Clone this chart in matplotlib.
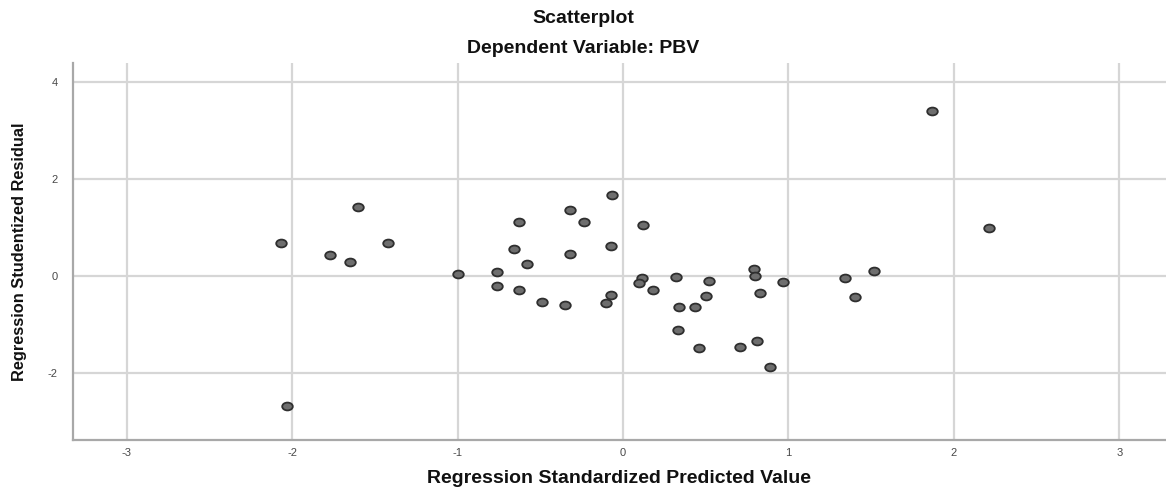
import matplotlib
matplotlib.use("Agg")
import matplotlib.pyplot as plt
from matplotlib.path import Path
import numpy as np

# ---- data ----
pred_values = [-1.60, -2.07, -1.42, -1.77, -1.65, -2.03,
               -0.065, -0.32, -0.63, -0.236, 0.12, -0.66, -0.07, -0.32, -0.58,
               -1.00, -0.76, -0.76, -0.63, -0.49, -0.35, -0.07, -0.10,
               0.115, 0.097, 0.18, 0.32, 0.52, 0.34, 0.435, 0.50, 0.33, 0.46,
               0.79, 0.80, 0.83, 0.97, 0.71, 0.81, 0.89,
               1.345, 1.52, 1.40, 1.87, 2.21]
resid_values = [1.41, 0.68, 0.68, 0.42, 0.29, -2.69,
                1.66, 1.35, 1.10, 1.11, 1.05, 0.55, 0.61, 0.44, 0.24,
                0.04, 0.08, -0.22, -0.29, -0.55, -0.61, -0.39, -0.56,
                -0.04, -0.16, -0.29, -0.02, -0.12, -0.64, -0.64, -0.42, -1.13, -1.49,
                0.13, 0.00, -0.36, -0.13, -1.47, -1.35, -1.88,
                -0.05, 0.09, -0.44, 3.39, 0.98]
x_ticks = [-3, -2, -1, 0, 1, 2, 3]
y_ticks = [-2, 0, 2, 4]
title_line1 = "Scatterplot"
title_line2 = "Dependent Variable: PBV"
x_label = "Regression Standardized Predicted Value"
y_label = "Regression Studentized Residual"

plt.rcParams['font.family'] = ['Liberation Sans', 'DejaVu Sans']

W, H = 1166, 492
fig = plt.figure(figsize=(W / 100, H / 100), dpi=100)
left_px, right_px, top_px, bottom_px = 72.7, 1166, 62.7, 440
ax = fig.add_axes([left_px / W, 1 - bottom_px / H,
                   (right_px - left_px) / W, (bottom_px - top_px) / H])

# elliptical marker (reference is horizontally stretched)
circ = Path.unit_circle()
ell = Path(circ.vertices * np.array([1.35, 1.0]), circ.codes)

ax.scatter(pred_values, resid_values, marker=ell, s=58,
           facecolor='#6e6e6e', edgecolor='#2f2f2f', linewidth=1.3, zorder=3)

ax.set_xlim(-3.327, 3.283)
ax.set_ylim(-3.39, 4.39)
ax.set_xticks(x_ticks)
ax.set_yticks(y_ticks)
ax.set_xticklabels([str(t) for t in x_ticks])
ax.set_yticklabels([str(t) for t in y_ticks])
ax.tick_params(axis='both', length=0, labelsize=8, labelcolor='#484848')
ax.tick_params(axis='x', pad=6)
ax.tick_params(axis='y', pad=11)

ax.grid(True, color='#d6d6d6', linewidth=1.6, zorder=0)
ax.set_axisbelow(True)
for s in ['top', 'right']:
    ax.spines[s].set_visible(False)
for s in ['left', 'bottom']:
    ax.spines[s].set_color('#a8a8a8')
    ax.spines[s].set_linewidth(1.6)

ax.set_xlabel(x_label, fontsize=14, fontweight='bold', color='#111111')
ax.xaxis.set_label_coords(0.5, (bottom_px - 470) / (bottom_px - top_px))
ax.set_ylabel(y_label, fontsize=11.8, fontweight='bold', color='#111111')
ax.yaxis.set_label_coords((27 - left_px) / (right_px - left_px), 0.5)

fig.text(0.5, 1 - 18.5 / H, title_line1, ha='center', va='center',
         fontsize=14, fontweight='bold', color='#111111')
fig.text(0.5, 1 - 48.5 / H, title_line2, ha='center', va='center',
         fontsize=14, fontweight='bold', color='#111111')

fig.savefig("out.png", dpi=100)
